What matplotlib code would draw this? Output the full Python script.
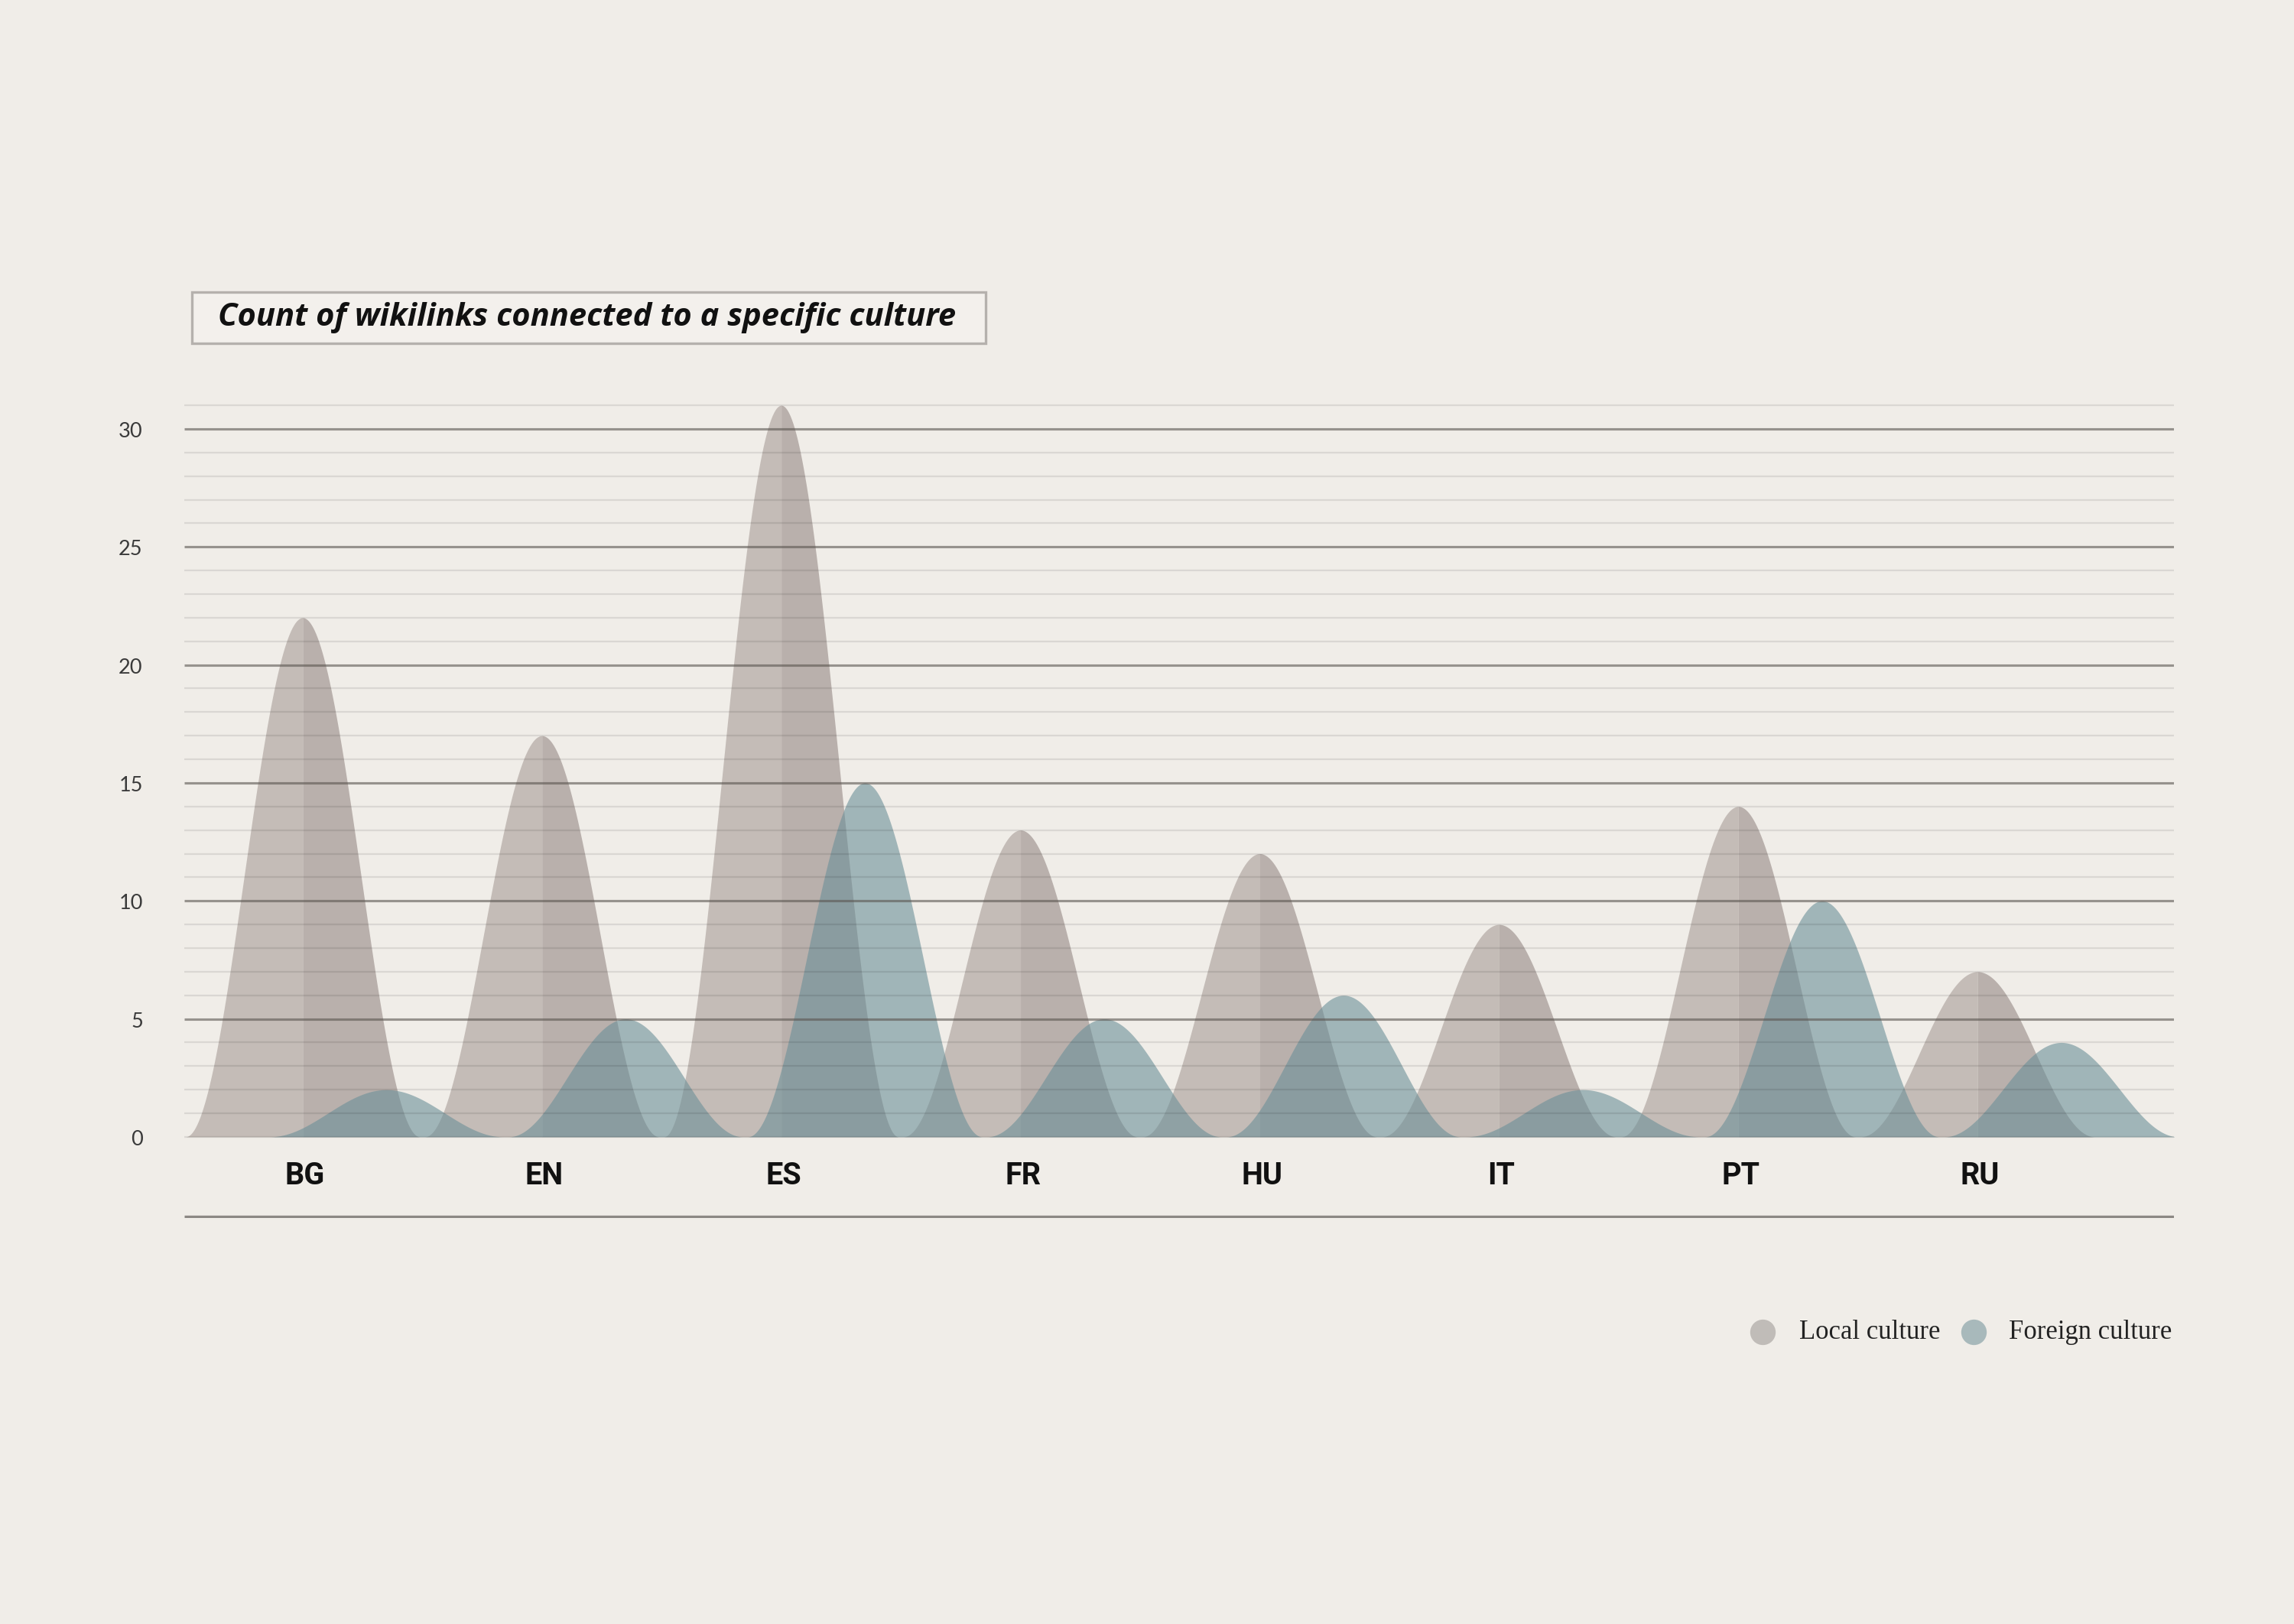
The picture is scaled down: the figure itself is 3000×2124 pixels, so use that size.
import numpy as np
import matplotlib.pyplot as plt
from matplotlib.patches import Rectangle
from matplotlib.lines import Line2D
import matplotlib.transforms as mtransforms

# values
categories = ["BG", "EN", "ES", "FR", "HU", "IT", "PT", "RU"]
local_culture = [22, 17, 31, 13, 12, 9, 14, 7]
foreign_culture = [2, 5, 15, 5, 6, 2, 10, 4]
y_ticks = [0, 5, 10, 15, 20, 25, 30]

BG_COL = "#f0ede8"
LOCAL_LEFT = "#c4bcb7"
LOCAL_RIGHT = "#b9b0ac"
FOREIGN = "#6c9098"
HALF_W = 0.49       # half width of each bell, in category units
FOREIGN_SHIFT = 0.35


def bell(x, centre, value):
    # cosine bell that drops to zero at centre +/- HALF_W
    return value * (1 + np.cos(np.pi * (x - centre) / HALF_W)) / 2


fig = plt.figure(figsize=(10, 7.0833), dpi=300, facecolor=BG_COL)
ax = fig.add_axes([0.0803, 0.2497, 0.8673, 0.5033])
ax.set_facecolor(BG_COL)
ax.set_xlim(-0.495, 7.82)
ax.set_ylim(-3.45, 31.2)

# local culture: lighter left half, darker right half
for i, v in enumerate(local_culture):
    xl = np.linspace(i - HALF_W, i, 80)
    xr = np.linspace(i, i + HALF_W, 80)
    ax.fill_between(xl, 0, bell(xl, i, v), color=LOCAL_LEFT, lw=0, zorder=2)
    ax.fill_between(xr, 0, bell(xr, i, v), color=LOCAL_RIGHT, lw=0, zorder=2)

# foreign culture, translucent on top
for i, v in enumerate(foreign_culture):
    c = i + FOREIGN_SHIFT
    xf = np.linspace(c - HALF_W, c + HALF_W, 160)
    ax.fill_between(xf, 0, bell(xf, c, v), color=FOREIGN, alpha=0.6, lw=0, zorder=3)

# grid: thin line every unit, darker every 5
x0, x1 = ax.get_xlim()
for y in range(0, 32):
    if y % 5 == 0 and y > 0:
        ax.hlines(y, x0, x1, color="#5a5550", alpha=0.6, lw=0.75, zorder=4)
    else:
        ax.hlines(y, x0, x1, color="black", alpha=0.09, lw=0.55, zorder=4)
ax.hlines(-3.37, x0, x1, color="#8c8884", lw=0.8, zorder=4)

for s in ax.spines.values():
    s.set_visible(False)
ax.set_xticks([])
ax.set_yticks(y_ticks)
ax.set_yticklabels([str(t) for t in y_ticks], family="Lato", fontsize=6.5, color="#3a3a3a")
ax.tick_params(axis="y", length=0, pad=13)

# category labels under each local bell
trans = mtransforms.blended_transform_factory(ax.transData, ax.transData)
for i, name in enumerate(categories):
    ax.text(i + 0.01, -1.62, name, transform=trans, ha="center", va="center",
            family="Roboto", fontweight="bold", fontsize=9.5, color="#111111")

# title in a box
fig.add_artist(Rectangle((0.0837, 0.7882), 0.346, 0.0315, transform=fig.transFigure,
                         facecolor="#f3f0ec", edgecolor="#b5b1ad", lw=0.8))
fig.text(0.095, 0.8045, "Count of wikilinks connected to a specific culture",
         family="Open Sans", style="italic", fontweight="bold", fontsize=10,
         color="#111111", ha="left", va="center")

# legend
ly = 0.1798
fig.add_artist(Line2D([0.7683], [ly], transform=fig.transFigure, marker="o",
                      markersize=7, color="#c0bcb8", lw=0))
fig.text(0.7843, ly, "Local culture", family="Liberation Serif", fontsize=8.3,
         color="#222222", ha="left", va="center")
fig.add_artist(Line2D([0.8603], [ly], transform=fig.transFigure, marker="o",
                      markersize=7, color="#a8b9bb", lw=0))
fig.text(0.8757, ly, "Foreign culture", family="Liberation Serif", fontsize=8.3,
         color="#222222", ha="left", va="center")

fig.savefig("out.png", dpi=300, facecolor=BG_COL)
